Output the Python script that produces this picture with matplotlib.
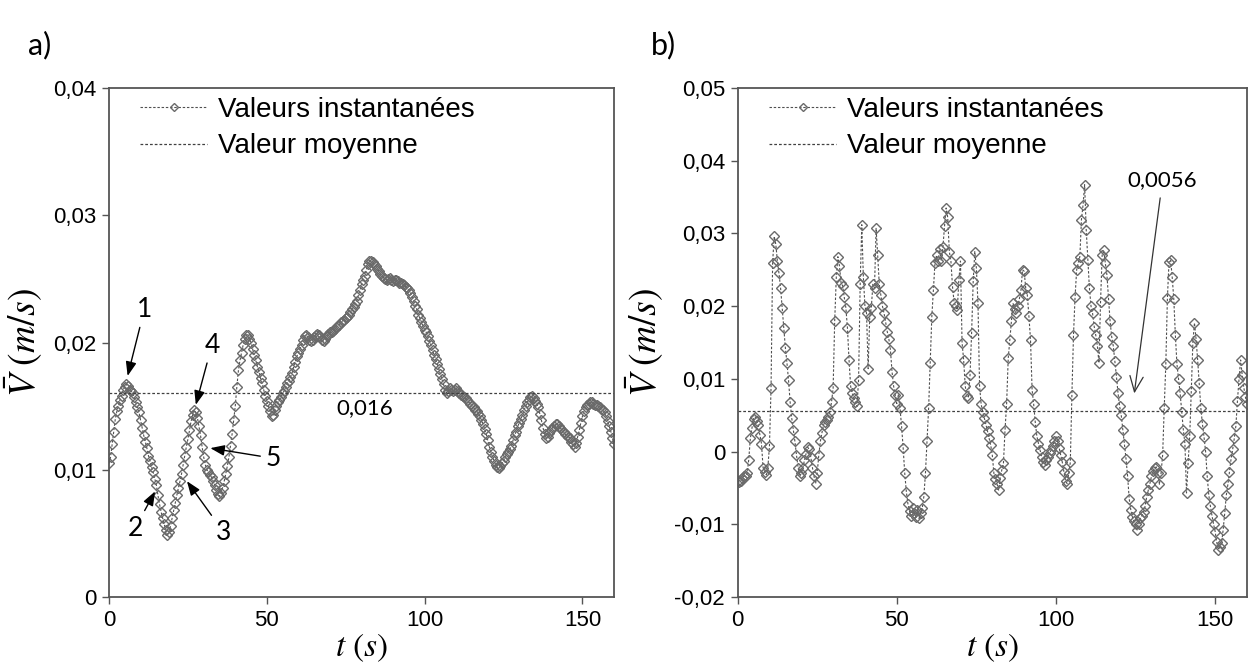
import numpy as np
import matplotlib
matplotlib.use("Agg")
import matplotlib.pyplot as plt
from matplotlib.ticker import FuncFormatter, FixedLocator

# ---------------- data ----------------
# panel a: instantaneous values, one sample every 0.5 s (t = 0..160 s)
STEP_A = 0.5
v_a = [
    0.0105, 0.0110, 0.0120, 0.0130, 0.0140, 0.0146, 0.0150, 0.0155, 0.0158, 0.0163,
    0.0165, 0.0167, 0.0166, 0.0163, 0.0162, 0.0160, 0.0157, 0.0153, 0.0149, 0.0145,
    0.0139, 0.0133, 0.0127, 0.0122, 0.0117, 0.0111, 0.0107, 0.0102, 0.0098, 0.0093,
    0.0088, 0.0080, 0.0073, 0.0067, 0.0062, 0.0057, 0.0053, 0.0049, 0.0051, 0.0056,
    0.0062, 0.0068, 0.0074, 0.0080, 0.0086, 0.0091, 0.0097, 0.0104, 0.0111, 0.0118,
    0.0124, 0.0131, 0.0138, 0.0143, 0.0147, 0.0145, 0.0141, 0.0134, 0.0127, 0.0118,
    0.0110, 0.0104, 0.0100, 0.0098, 0.0096, 0.0094, 0.0091, 0.0088, 0.0084, 0.0081,
    0.0079, 0.0082, 0.0086, 0.0091, 0.0097, 0.0103, 0.0110, 0.0119, 0.0128, 0.0139,
    0.0150, 0.0165, 0.0178, 0.0186, 0.0192, 0.0198, 0.0203, 0.0206, 0.0206, 0.0203,
    0.0200, 0.0195, 0.0190, 0.0186, 0.0181, 0.0177, 0.0172, 0.0168, 0.0163, 0.0158,
    0.0154, 0.0150, 0.0146, 0.0142, 0.0143, 0.0147, 0.0150, 0.0153, 0.0155, 0.0157,
    0.0160, 0.0162, 0.0165, 0.0168, 0.0170, 0.0173, 0.0176, 0.0181, 0.0185, 0.0189,
    0.0192, 0.0195, 0.0198, 0.0202, 0.0205, 0.0206, 0.0204, 0.0202, 0.0201, 0.0202,
    0.0204, 0.0206, 0.0207, 0.0206, 0.0204, 0.0202, 0.0201, 0.0203, 0.0205, 0.0207,
    0.0208, 0.0208, 0.0209, 0.0211, 0.0212, 0.0213, 0.0214, 0.0216, 0.0217, 0.0218,
    0.0219, 0.0220, 0.0222, 0.0224, 0.0226, 0.0228, 0.0230, 0.0233, 0.0237, 0.0241,
    0.0246, 0.0249, 0.0252, 0.0257, 0.0262, 0.0264, 0.0264, 0.0263, 0.0262, 0.0260,
    0.0258, 0.0256, 0.0254, 0.0252, 0.0251, 0.0250, 0.0249, 0.0250, 0.0251, 0.0249,
    0.0248, 0.0249, 0.0249, 0.0248, 0.0247, 0.0247, 0.0246, 0.0245, 0.0244, 0.0243,
    0.0241, 0.0239, 0.0236, 0.0233, 0.0229, 0.0226, 0.0222, 0.0219, 0.0216, 0.0213,
    0.0210, 0.0208, 0.0205, 0.0201, 0.0198, 0.0194, 0.0190, 0.0187, 0.0183, 0.0179,
    0.0175, 0.0171, 0.0167, 0.0163, 0.0160, 0.0162, 0.0164, 0.0163, 0.0162, 0.0163,
    0.0164, 0.0162, 0.0160, 0.0159, 0.0158, 0.0157, 0.0156, 0.0155, 0.0153, 0.0152,
    0.0150, 0.0149, 0.0147, 0.0146, 0.0144, 0.0142, 0.0139, 0.0136, 0.0132, 0.0128,
    0.0123, 0.0118, 0.0114, 0.0110, 0.0107, 0.0104, 0.0102, 0.0101, 0.0103, 0.0105,
    0.0107, 0.0110, 0.0112, 0.0114, 0.0116, 0.0119, 0.0123, 0.0127, 0.0130, 0.0134,
    0.0137, 0.0140, 0.0143, 0.0147, 0.0150, 0.0153, 0.0155, 0.0157, 0.0158, 0.0156,
    0.0154, 0.0152, 0.0149, 0.0144, 0.0139, 0.0133, 0.0128, 0.0125, 0.0126, 0.0129,
    0.0131, 0.0133, 0.0134, 0.0136, 0.0136, 0.0134, 0.0133, 0.0131, 0.0130, 0.0128,
    0.0127, 0.0126, 0.0125, 0.0122, 0.0120, 0.0118, 0.0121, 0.0126, 0.0131, 0.0137,
    0.0142, 0.0146, 0.0149, 0.0151, 0.0152, 0.0153, 0.0153, 0.0152, 0.0151, 0.0151,
    0.0150, 0.0149, 0.0148, 0.0147, 0.0145, 0.0142, 0.0138, 0.0134, 0.0130, 0.0125,
    0.0120,
]
MEAN_A = 0.016

# panel b: instantaneous values, one sample every 0.5 s (t = 0..160 s)
STEP_B = 0.5
v_b = [
    -0.0040, -0.0042, -0.0040, -0.0036, -0.0034, -0.0033, -0.0030, -0.0011, 0.0018, 0.0032,
    0.0045, 0.0048, 0.0042, 0.0036, 0.0023, 0.0011, -0.0022, -0.0028, -0.0032, -0.0022,
    0.0007, 0.0087, 0.0260, 0.0296, 0.0285, 0.0262, 0.0245, 0.0225, 0.0198, 0.0170,
    0.0143, 0.0122, 0.0098, 0.0068, 0.0046, 0.0030, 0.0014, -0.0005, -0.0022, -0.0034,
    -0.0030, -0.0022, -0.0012, -0.0003, 0.0006, 0.0003, -0.0008, -0.0022, -0.0034, -0.0044,
    -0.0030, -0.0005, 0.0014, 0.0026, 0.0037, 0.0041, 0.0044, 0.0048, 0.0055, 0.0068,
    0.0087, 0.0180, 0.0240, 0.0268, 0.0255, 0.0232, 0.0228, 0.0212, 0.0198, 0.0170,
    0.0126, 0.0090, 0.0080, 0.0073, 0.0068, 0.0062, 0.0099, 0.0230, 0.0312, 0.0240,
    0.0200, 0.0190, 0.0114, 0.0185, 0.0198, 0.0230, 0.0225, 0.0307, 0.0270, 0.0230,
    0.0215, 0.0200, 0.0190, 0.0178, 0.0165, 0.0155, 0.0140, 0.0110, 0.0090, 0.0078,
    0.0066, 0.0078, 0.0060, 0.0035, 0.0005, -0.0030, -0.0055, -0.0072, -0.0082, -0.0088,
    -0.0078, -0.0085, -0.0090, -0.0080, -0.0092, -0.0085, -0.0078, -0.0062, -0.0030, 0.0015,
    0.0060, 0.0122, 0.0185, 0.0222, 0.0260, 0.0270, 0.0262, 0.0278, 0.0262, 0.0282,
    0.0310, 0.0335, 0.0322, 0.0275, 0.0262, 0.0227, 0.0205, 0.0200, 0.0195, 0.0236,
    0.0262, 0.0150, 0.0126, 0.0090, 0.0076, 0.0074, 0.0105, 0.0163, 0.0234, 0.0275,
    0.0252, 0.0204, 0.0090, 0.0065, 0.0055, 0.0046, 0.0037, 0.0028, 0.0018, 0.0009,
    -0.0005, -0.0030, -0.0038, -0.0045, -0.0053, -0.0036, -0.0025, -0.0016, 0.0030, 0.0066,
    0.0128, 0.0154, 0.0179, 0.0204, 0.0196, 0.0190, 0.0200, 0.0210, 0.0222, 0.0250,
    0.0248, 0.0225, 0.0215, 0.0186, 0.0154, 0.0085, 0.0065, 0.0040, 0.0021, 0.0011,
    0.0002, -0.0007, -0.0014, -0.0018, -0.0012, -0.0007, -0.0002, 0.0002, 0.0008, 0.0014,
    0.0021, 0.0014, 0.0005, -0.0005, -0.0015, -0.0028, -0.0040, -0.0044, -0.0030, -0.0015,
    0.0078, 0.0160, 0.0213, 0.0250, 0.0260, 0.0268, 0.0319, 0.0339, 0.0367, 0.0305,
    0.0264, 0.0225, 0.0200, 0.0190, 0.0172, 0.0160, 0.0145, 0.0122, 0.0206, 0.0270,
    0.0277, 0.0259, 0.0243, 0.0210, 0.0179, 0.0158, 0.0145, 0.0124, 0.0103, 0.0080,
    0.0062, 0.0050, 0.0030, 0.0010, -0.0010, -0.0034, -0.0065, -0.0080, -0.0090, -0.0096,
    -0.0100, -0.0108, -0.0100, -0.0092, -0.0088, -0.0083, -0.0075, -0.0062, -0.0053, -0.0044,
    -0.0034, -0.0027, -0.0023, -0.0021, -0.0030, -0.0045, -0.0030, -0.0005, 0.0060, 0.0120,
    0.0211, 0.0261, 0.0264, 0.0240, 0.0210, 0.0160, 0.0120, 0.0100, 0.0080, 0.0055,
    0.0030, 0.0011, -0.0057, -0.0016, 0.0021, 0.0083, 0.0150, 0.0177, 0.0155, 0.0126,
    0.0094, 0.0060, 0.0038, 0.0020, 0.0000, -0.0034, -0.0060, -0.0075, -0.0088, -0.0100,
    -0.0110, -0.0125, -0.0135, -0.0131, -0.0126, -0.0108, -0.0085, -0.0060, -0.0045, -0.0028,
    -0.0010, 0.0003, 0.0018, 0.0035, 0.0070, 0.0100, 0.0126, 0.0105, 0.0088, 0.0075,
    0.0066,
]
MEAN_B = 0.0056

X_TICKS = [0, 50, 100, 150]
Y_TICKS_A = [0, 0.01, 0.02, 0.03, 0.04]
Y_TICKS_B = [-0.02, -0.01, 0, 0.01, 0.02, 0.03, 0.04, 0.05]
LABEL_INST = "Valeurs instantanées"
LABEL_MEAN = "Valeur moyenne"

# ---------------- style ----------------
plt.rcParams["mathtext.fontset"] = "stix"
TICK_FONT = ["Liberation Sans Narrow", "Liberation Sans", "DejaVu Sans"]
TEXT_FONT = ["Liberation Sans", "DejaVu Sans"]
NOTE_FONT = ["Lato", "Open Sans", "DejaVu Sans"]
GRAY = "#6a6a6a"
SPINE = "#555555"

W, H = 1250, 664
fig = plt.figure(figsize=(W / 100, H / 100), dpi=100)

ax_a = fig.add_axes([109 / W, 1 - 597 / H, (614 - 109) / W, (597 - 88) / H])
ax_b = fig.add_axes([737.6 / W, 1 - 597 / H, (1247 - 737.6) / W, (597 - 88) / H])


def comma_fmt(v, pos):
    if abs(v) < 1e-12:
        return "0"
    return ("%.2f" % v).replace(".", ",")


def style_axes(ax, yticks, ylim):
    ax.set_xlim(0, 160)
    ax.set_ylim(*ylim)
    ax.xaxis.set_major_locator(FixedLocator(X_TICKS))
    ax.yaxis.set_major_locator(FixedLocator(yticks))
    ax.yaxis.set_major_formatter(FuncFormatter(comma_fmt))
    ax.tick_params(direction="out", length=5, width=1, color=SPINE,
                   top=False, right=False, labelsize=16, pad=4,
                   labelfontfamily=TICK_FONT)
    for s in ax.spines.values():
        s.set_color(SPINE)
        s.set_linewidth(1.3)
    ax.set_xlabel(r"$t\ (s)$", fontsize=24, labelpad=0)
    ax.set_ylabel(r"$\bar{V}\ (m/s)$", fontsize=27, labelpad=6)


def draw_series(ax, values, step, mean):
    t = np.arange(len(values)) * step
    ax.plot(t, values, linestyle=(0, (2.2, 1.6)), linewidth=0.8, color="#505050",
            marker="D", markersize=5.4, markerfacecolor="none",
            markeredgecolor=GRAY, markeredgewidth=1.0, label=LABEL_INST)
    ax.axhline(mean, linestyle=(0, (2.2, 1.6)), linewidth=0.9, color="#404040",
               label=LABEL_MEAN)
    leg = ax.legend(loc="upper left", bbox_to_anchor=(0.062, 0.982), frameon=False,
                    numpoints=1, handlelength=2.4, handletextpad=0.4,
                    labelspacing=0.37, borderpad=0, borderaxespad=0,
                    prop={"family": TEXT_FONT, "size": 20}, markerscale=0.8)
    return leg


draw_series(ax_a, v_a, STEP_A, MEAN_A)
style_axes(ax_a, Y_TICKS_A, (0, 0.04))

draw_series(ax_b, v_b, STEP_B, MEAN_B)
style_axes(ax_b, Y_TICKS_B, (-0.02, 0.05))

# annotations panel a
arrow_a = dict(arrowstyle="-|>,head_length=0.45,head_width=0.17", color="black",
               lw=1.0, shrinkA=2, shrinkB=0)
notes_a = [
    ("1", (5.9, 0.01737), (11.2, 0.0226)),
    ("4", (27.5, 0.0151), (32.6, 0.0198)),
    ("2", (14.6, 0.0083), (8.25, 0.0054)),
    ("3", (24.7, 0.0091), (36.3, 0.0051)),
    ("5", (32.1, 0.0117), (52.1, 0.0109)),
]
for txt, tip, pos in notes_a:
    ax_a.annotate(txt, xy=tip, xytext=pos, ha="center", va="center",
                  fontsize=19, family=NOTE_FONT, arrowprops=arrow_a)

ax_a.text(80.9, 0.01485, "0,016", ha="center", va="center",
          fontsize=16, family=NOTE_FONT)

# annotation panel b
ax_b.annotate("0,0056", xy=(124.6, 0.0080), xytext=(133.5, 0.0374),
              ha="center", va="center", fontsize=16, family=NOTE_FONT,
              arrowprops=dict(arrowstyle="->,head_length=0.7,head_width=0.3",
                              color="#333333", lw=0.9, shrinkA=4, shrinkB=0))

# panel letters
fig.text(40 / W, 1 - 45 / H, "a)", fontsize=22, family=NOTE_FONT, ha="center", va="center")
fig.text(663 / W, 1 - 45 / H, "b)", fontsize=22, family=NOTE_FONT, ha="center", va="center")

fig.savefig("out.png", dpi=100)
